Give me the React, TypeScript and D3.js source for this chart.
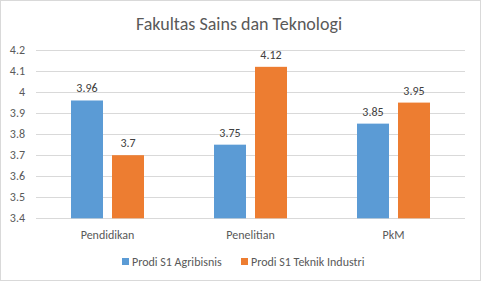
import React from "react";
import * as d3 from "d3";

const categories = ["Pendidikan", "Penelitian", "PkM"];
const seriesNames = ["Prodi S1 Agribisnis", "Prodi S1 Teknik Industri"];
const agribisnis = [3.96, 3.75, 3.85];
const teknikIndustri = [3.7, 4.12, 3.95];
const yTicks = [3.4, 3.5, 3.6, 3.7, 3.8, 3.9, 4, 4.1, 4.2];
const colors = ["#5B9BD5", "#ED7D31"];

const W = 481, H = 281;
const FONT = "Carlito, Calibri, 'Open Sans', 'Liberation Sans', sans-serif";

export default function App() {
  const x0 = d3.scaleBand().domain(categories).range([36, 465]).paddingInner(0).paddingOuter(0);
  const y = d3.scaleLinear().domain([3.4, 4.2]).range([218.3, 50]);
  const barW = 32;
  const gap = 9;
  const series = [agribisnis, teknikIndustri];
  return (
    <svg width={W} height={H} style={{ position: "absolute", left: 0, top: 0 }} fontFamily={FONT}>
      <rect x={0.5} y={0.5} width={W - 1} height={H - 1} fill="#fff" stroke="#D9D9D9" />
      <text x={239} y={30} textAnchor="middle" fontSize={18} fill="#595959">Fakultas Sains dan Teknologi</text>
      {yTicks.map((t) => (
        <g key={t}>
          <line x1={36} x2={465} y1={Math.round(y(t)) + 0.5} y2={Math.round(y(t)) + 0.5} stroke="#D9D9D9" />
          <text x={25} y={y(t) + 4} textAnchor="end" fontSize={12} fill="#595959">{t}</text>
        </g>
      ))}
      {categories.map((c, i) => {
        const cx = x0(c)! + x0.bandwidth() / 2;
        return (
          <g key={c}>
            {series.map((s, j) => {
              const bx = j === 0 ? cx - gap / 2 - barW : cx + gap / 2;
              return (
                <g key={j}>
                  <rect x={bx} y={y(s[i])} width={barW} height={y(3.4) - y(s[i])} fill={colors[j]} />
                  <text x={bx + barW / 2} y={y(s[i]) - 8} textAnchor="middle" fontSize={12} fill="#404040">{s[i]}</text>
                </g>
              );
            })}
            <text x={cx} y={239} textAnchor="middle" fontSize={12} fill="#595959">{c}</text>
          </g>
        );
      })}
      {seriesNames.map((n, j) => {
        const lx = j === 0 ? 122 : 241;
        return (
          <g key={n}>
            <rect x={lx} y={258} width={7} height={7} fill={colors[j]} />
            <text x={lx + 10} y={266} fontSize={12} fill="#595959">{n}</text>
          </g>
        );
      })}
    </svg>
  );
}
